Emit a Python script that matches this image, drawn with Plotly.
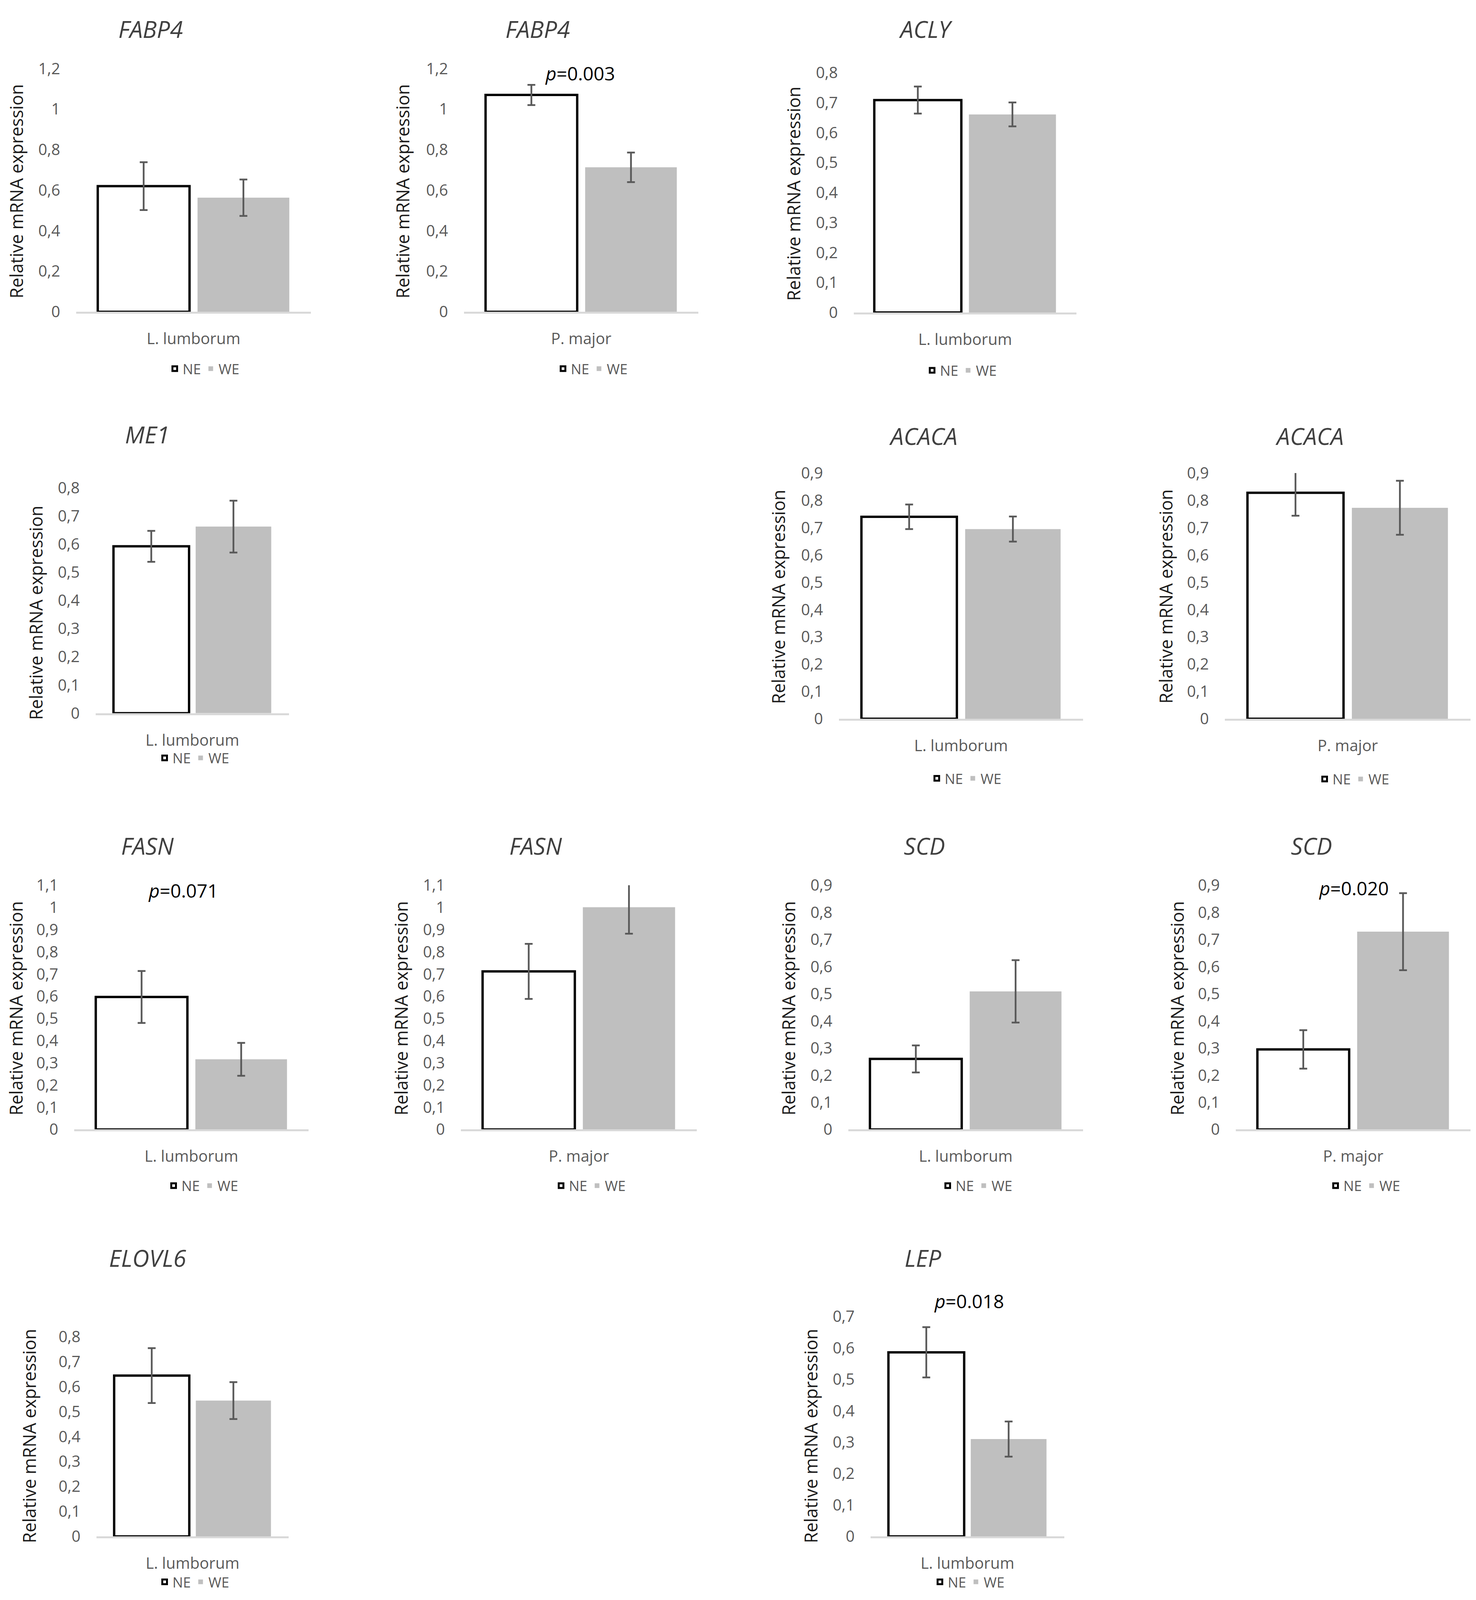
import numpy as np
import plotly.graph_objects as go

W, H = 3779, 4550

# Dados
genes = ["FABP4", "FABP4", "ACLY", "ME1", "ACACA", "ACACA",
         "FASN", "FASN", "SCD", "SCD", "ELOVL6", "LEP"]
muscles = ["L. lumborum", "P. major", "L. lumborum", "L. lumborum", "L. lumborum", "P. major",
           "L. lumborum", "P. major", "L. lumborum", "P. major", "L. lumborum", "L. lumborum"]
ne_mean = [0.62, 1.07, 0.709, 0.592, 0.74, 0.828, 0.597, 0.712, 0.26, 0.295, 0.644, 0.586]
ne_err = [0.118, 0.05, 0.045, 0.055, 0.045, 0.084, 0.117, 0.124, 0.05, 0.071, 0.11, 0.08]
we_mean = [0.563, 0.713, 0.661, 0.662, 0.695, 0.773, 0.316, 1.001, 0.509, 0.729, 0.544, 0.31]
we_err = [0.09, 0.073, 0.04, 0.092, 0.046, 0.099, 0.074, 0.119, 0.115, 0.142, 0.074, 0.056]
y_max = [1.2, 1.2, 0.8, 0.8, 0.9, 0.9, 1.1, 1.1, 0.9, 0.9, 0.8, 0.7]
y_step = [0.2, 0.2, 0.1, 0.1, 0.1, 0.1, 0.1, 0.1, 0.1, 0.1, 0.1, 0.1]
p_text = [None, "0.003", None, None, None, None, "0.071", None, None, "0.020", None, "0.018"]
groups = ["NE", "WE"]

# Posicao de cada painel em pixels da imagem original: x0, x1, topo, base
boxes = [
    (187, 788, 156, 857), (1180, 1780, 156, 857), (2178, 2748, 168, 859),
    (237, 732, 1364, 2014), (2140, 2765, 1322, 2030), (3128, 3757, 1322, 2030),
    (182, 782, 2510, 3214), (1172, 1776, 2510, 3214), (2164, 2765, 2510, 3214), (3156, 3757, 2510, 3214),
    (239, 731, 3811, 4387), (2221, 2717, 3753, 4387),
]
title_pos = [(377, 42), (1368, 42), (2362, 42), (369, 1210), (2355, 1215), (3344, 1215),
             (370, 2396), (1364, 2396), (2359, 2396), (3350, 2396), (370, 3584), (2355, 3584)]
p_pos = [None, (1477, 170), None, None, None, None, (461, 2525), None, None, (3458, 2518), None, (2473, 3708)]
ytitle_pos = [(34, 510), (1023, 510), (2023, 517), (83, 1725), (1984, 1678), (2976, 1678),
              (32, 2865), (1018, 2865), (2010, 2865), (3005, 2865), (67, 4098), (2068, 4098)]
legend_pos = [(515, 1021), (1509, 1021), (2454, 1026), (489, 2143), (2466, 2202), (3459, 2204),
              (512, 3376), (1504, 3376), (2494, 3376), (3487, 3376), (489, 4518), (2474, 4518)]

FONT = "Open Sans"
GREY_TXT = "#595959"

fig = go.Figure()
annotations = []
layout_axes = {}

for i in range(12):
    k = "" if i == 0 else str(i + 1)
    leg = "legend" + k
    x0, x1, yt, yb = boxes[i]

    fig.add_trace(go.Bar(
        x=[muscles[i]], y=[ne_mean[i]], name=groups[0],
        error_y=dict(type="data", array=[ne_err[i]], color="#595959", thickness=4.5, width=10),
        marker=dict(color="white", line=dict(color="black", width=6)),
        xaxis="x" + k, yaxis="y" + k, legend=leg, cliponaxis=False,
    ))
    fig.add_trace(go.Bar(
        x=[muscles[i]], y=[we_mean[i]], name=groups[1],
        error_y=dict(type="data", array=[we_err[i]], color="#595959", thickness=4.5, width=10),
        marker=dict(color="#bfbfbf", line=dict(width=0)),
        xaxis="x" + k, yaxis="y" + k, legend=leg, cliponaxis=False,
    ))

    ticks = np.round(np.arange(0, y_max[i] + y_step[i] / 2, y_step[i]), 2)
    layout_axes["xaxis" + k] = dict(
        domain=[x0 / W, x1 / W], anchor="y" + k,
        showline=True, linecolor="#d9d9d9", linewidth=5,
        showgrid=False, zeroline=False, ticks="",
        tickfont=dict(family=FONT, size=40, color=GREY_TXT),
        ticklabelstandoff=30, fixedrange=True,
    )
    layout_axes["yaxis" + k] = dict(
        domain=[1 - yb / H, 1 - yt / H], anchor="x" + k,
        range=[0, y_max[i] * 1.0002], tickmode="array", tickvals=ticks,
        showgrid=False, zeroline=False, showline=False, ticks="",
        tickfont=dict(family=FONT, size=40, color=GREY_TXT),
        ticklabelstandoff=40, fixedrange=True,
    )
    lx, ly = legend_pos[i]
    layout_axes[leg] = dict(
        x=lx / W, y=1 - ly / H, xanchor="center", yanchor="middle",
        orientation="h", font=dict(family=FONT, size=36, color=GREY_TXT),
        bgcolor="rgba(0,0,0,0)", itemclick=False, itemdoubleclick=False,
    )

    tx, ty = title_pos[i]
    annotations.append(dict(
        text="<i>" + genes[i] + "</i>", x=tx / W, y=1 - ty / H, xref="paper", yref="paper",
        showarrow=False, xanchor="center", yanchor="middle",
        font=dict(family=FONT, size=60, color="#404040"),
    ))
    vx, vy = ytitle_pos[i]
    annotations.append(dict(
        text="Relative mRNA expression", x=vx / W, y=1 - vy / H, xref="paper", yref="paper",
        showarrow=False, xanchor="center", yanchor="middle", textangle=-90,
        font=dict(family=FONT, size=45, color="#1a1a1a"),
    ))
    if p_text[i] is not None:
        px, py = p_pos[i]
        annotations.append(dict(
            text="<i>p</i>=" + p_text[i], x=px / W, y=1 - py / H, xref="paper", yref="paper",
            showarrow=False, xanchor="center", yanchor="middle",
            font=dict(family=FONT, size=48, color="black"),
        ))

# Sem width/height fixos: a figura ocupa a janela inteira
fig.update_layout(
    autosize=True,
    margin=dict(l=0, r=0, t=0, b=0),
    paper_bgcolor="white", plot_bgcolor="white",
    barmode="group", bargap=0.15, bargroupgap=0.08,
    separators=", ",
    annotations=annotations,
    **layout_axes,
)

fig.write_html("out.html", default_width="100vw", default_height="100vh")
